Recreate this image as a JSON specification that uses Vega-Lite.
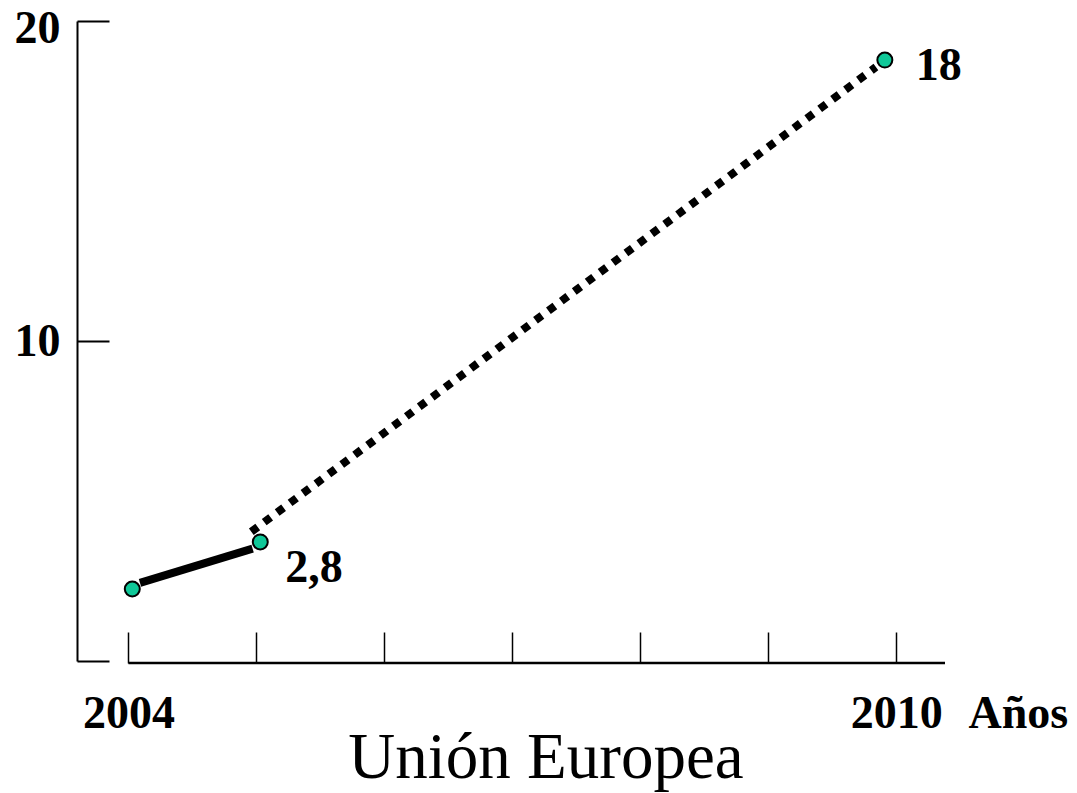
{
  "$schema": "https://vega.github.io/schema/vega-lite/v6.json",
  "width": 868,
  "height": 640,
  "autosize": {"type": "none"},
  "padding": {"left": 77, "top": 21, "right": 132, "bottom": 132},
  "background": "white",
  "config": {"view": {"stroke": null}, "font": "Liberation Serif"},
  "title": {
    "text": "Unión Europea",
    "orient": "bottom",
    "font": "Liberation Serif",
    "fontSize": 65,
    "fontWeight": "normal",
    "color": "black",
    "anchor": "middle",
    "dx": 35,
    "offset": 42,
    "baseline": "alphabetic"
  },
  "datasets": {
    "points": [
      {"year": 2004.03, "value": 2.25, "label": ""},
      {"year": 2005.03, "value": 3.72, "label": "2,8"},
      {"year": 2009.91, "value": 18.78, "label": "18"}
    ],
    "solid": [
      {"year": 2004.09, "value": 2.44},
      {"year": 2004.97, "value": 3.51}
    ],
    "dotted": [
      {"year": 2004.96, "value": 4.04},
      {"year": 2009.84, "value": 18.56}
    ],
    "axisline": [{"from": 2004, "to": 2010.38, "value": 0}]
  },
  "layer": [
    {
      "data": {"name": "axisline"},
      "mark": {"type": "rule", "color": "black", "strokeWidth": 2.5, "yOffset": 2},
      "encoding": {
        "x": {
          "field": "from",
          "type": "quantitative",
          "scale": {"domain": [2003.598, 2010.38], "nice": false, "zero": false},
          "axis": {
            "values": [2004, 2005, 2006, 2007, 2008, 2009, 2010],
            "format": "d",
            "labelExpr": "datum.value == 2004 || datum.value == 2010 ? datum.label : ''",
            "domain": false,
            "grid": false,
            "offset": 2,
            "tickSize": -31,
            "tickWidth": 1.5,
            "tickColor": "black",
            "labelFont": "Liberation Serif",
            "labelFontSize": 46,
            "labelFontWeight": "bold",
            "labelColor": "black",
            "labelBaseline": "alphabetic",
            "labelPadding": 95,
            "labelOverlap": false,
            "title": "Años",
            "titleFont": "Liberation Serif",
            "titleFontSize": 46,
            "titleFontWeight": "bold",
            "titleColor": "black",
            "titleAlign": "left",
            "titleBaseline": "alphabetic",
            "titleX": 891,
            "titleY": 64
          }
        },
        "x2": {"field": "to"},
        "y": {
          "field": "value",
          "type": "quantitative",
          "scale": {"domain": [0, 20], "nice": false},
          "axis": {
            "values": [0, 10, 20],
            "labelExpr": "datum.value == 0 ? '' : datum.label",
            "domain": true,
            "domainColor": "black",
            "domainWidth": 2,
            "grid": false,
            "tickSize": -32,
            "tickWidth": 2,
            "tickColor": "black",
            "labelFont": "Liberation Serif",
            "labelFontSize": 46,
            "labelFontWeight": "bold",
            "labelColor": "black",
            "labelPadding": 49,
            "labelOffset": {"condition": {"test": "datum.value == 20", "value": 7}, "value": 0},
            "title": null
          }
        }
      }
    },
    {
      "data": {"name": "solid"},
      "mark": {"type": "line", "color": "black", "strokeWidth": 8, "strokeCap": "butt"},
      "encoding": {
        "x": {"field": "year", "type": "quantitative"},
        "y": {"field": "value", "type": "quantitative"}
      }
    },
    {
      "data": {"name": "dotted"},
      "mark": {"type": "line", "color": "black", "strokeWidth": 8, "strokeCap": "butt", "strokeDash": [8, 8.1]},
      "encoding": {
        "x": {"field": "year", "type": "quantitative"},
        "y": {"field": "value", "type": "quantitative"}
      }
    },
    {
      "data": {"name": "points"},
      "mark": {"type": "point", "shape": "circle", "filled": true, "fill": "#0FC898", "stroke": "black", "strokeWidth": 2, "size": 225, "opacity": 1},
      "encoding": {
        "x": {"field": "year", "type": "quantitative"},
        "y": {"field": "value", "type": "quantitative"}
      }
    },
    {
      "data": {"name": "points"},
      "transform": [{"filter": "datum.label == '2,8'"}],
      "mark": {"type": "text", "align": "left", "baseline": "alphabetic", "dx": 25, "dy": 40, "font": "Liberation Serif", "fontSize": 46, "fontWeight": "bold", "color": "black"},
      "encoding": {
        "x": {"field": "year", "type": "quantitative"},
        "y": {"field": "value", "type": "quantitative"},
        "text": {"field": "label"}
      }
    },
    {
      "data": {"name": "points"},
      "transform": [{"filter": "datum.label == '18'"}],
      "mark": {"type": "text", "align": "left", "baseline": "alphabetic", "dx": 31, "dy": 20, "font": "Liberation Serif", "fontSize": 46, "fontWeight": "bold", "color": "black"},
      "encoding": {
        "x": {"field": "year", "type": "quantitative"},
        "y": {"field": "value", "type": "quantitative"},
        "text": {"field": "label"}
      }
    }
  ]
}
